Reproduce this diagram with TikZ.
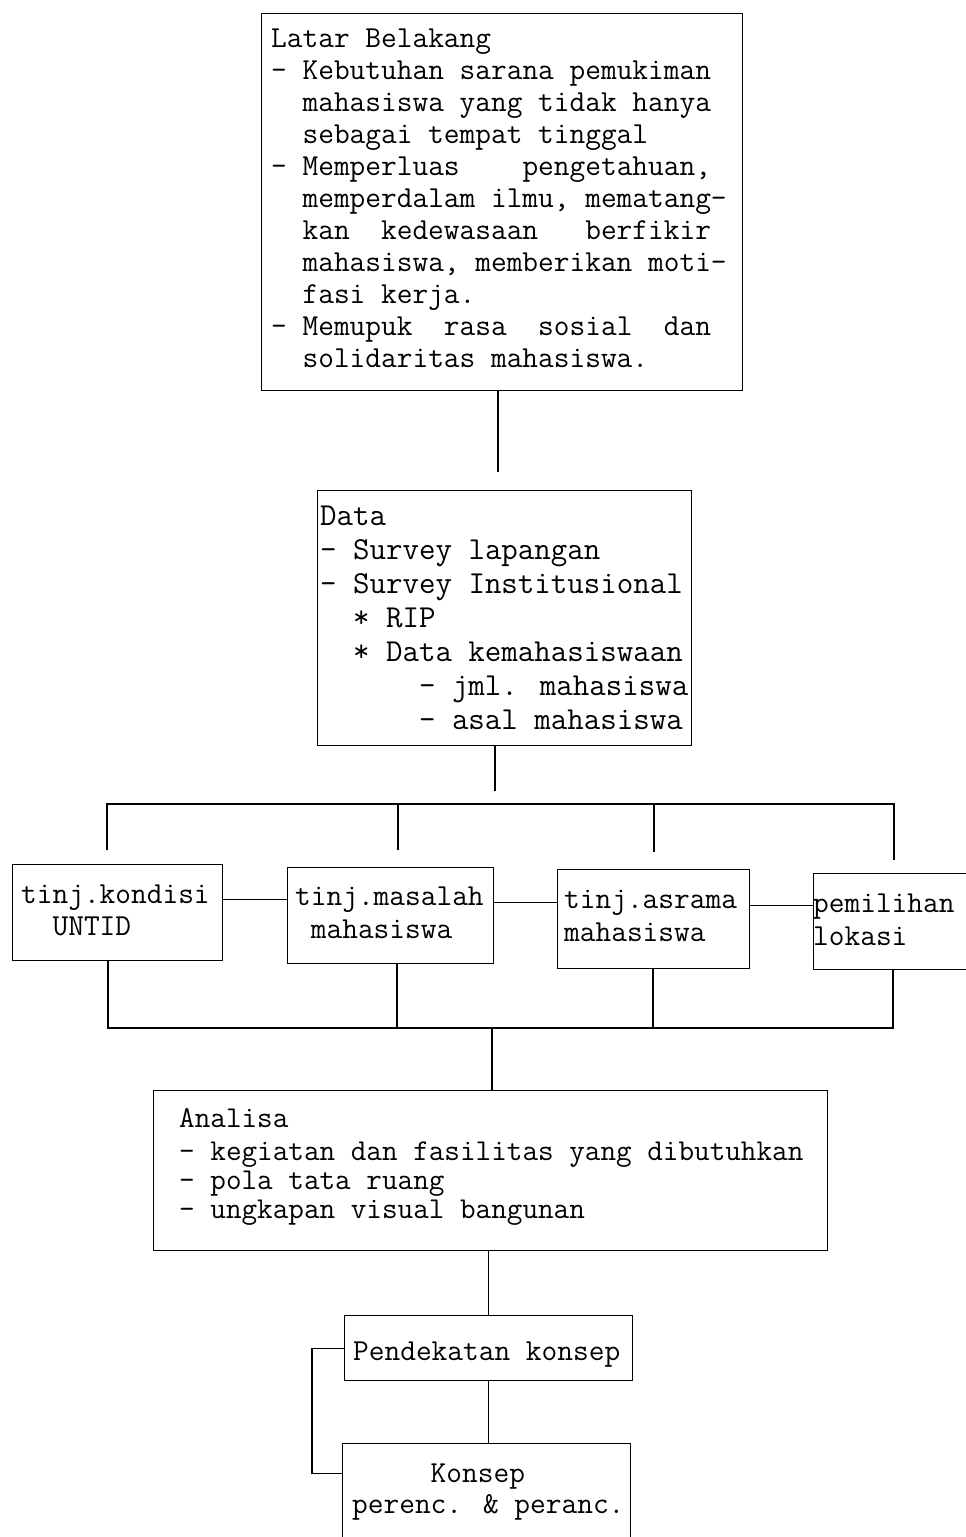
\documentclass[tikz,border=0pt]{standalone}
\usepackage{fontspec}
\begin{document}
\begin{tikzpicture}[x=1pt,y=-1pt,
  box/.style={draw, line width=1.2pt, inner sep=0pt, anchor=north west},
  txt/.style={inner sep=0pt, anchor=north west, align=left},
  ln/.style={line width=1.2pt}]
\fill[white] (0,0) rectangle (966,1537);
\useasboundingbox (0,0) rectangle (966,1537);

% boxes
\node[box, minimum width=481pt, minimum height=377pt] (lb) at (261,13) {};
\node[box, minimum width=374pt, minimum height=255pt] (data) at (317,490) {};
\node[box, minimum width=210pt, minimum height=96pt] (b1) at (12,864) {};
\node[box, minimum width=206pt, minimum height=96pt] (b2) at (287,867) {};
\node[box, minimum width=192pt, minimum height=99pt] (b3) at (557,869) {};
\node[box, minimum width=170pt, minimum height=96pt] (b4) at (813,873) {};
\node[box, minimum width=674pt, minimum height=160pt] (an) at (153,1090) {};
\node[box, minimum width=288pt, minimum height=65pt] (pk) at (344,1315) {};
\node[box, minimum width=288pt, minimum height=120pt] (ks) at (342,1443) {};

% texts
\node[txt, font=\ttfamily\fontsize{30.5}{32}\selectfont] (tlb) at (271,24.6) {\strut Latar Belakang\\
- Kebutuhan sarana pemukiman\\
\phantom{xx}mahasiswa yang tidak hanya\\
\phantom{xx}sebagai tempat tinggal\\
- Memperluas~~~~pengetahuan,\\
\phantom{xx}memperdalam ilmu, mematang-\\
\phantom{xx}kan~~kedewasaan~~~berfikir\\
\phantom{xx}mahasiswa, memberikan moti-\\
\phantom{xx}fasi kerja.\\
- Memupuk~~rasa~~sosial~~dan\\
\phantom{xx}solidaritas mahasiswa.};

\node[txt, font=\ttfamily\fontsize{32}{34}\selectfont] (tdata) at (320,501.2) {\strut Data\\
- Survey lapangan\\
- Survey Institusional\\
\phantom{xx}* RIP\\
\phantom{xx}* Data kemahasiswaan\\
\phantom{xxxxxx}- jml. mahasiswa\\
\phantom{xxxxxx}- asal mahasiswa};

\node[txt, font=\ttfamily\fontsize{30.5}{32}\selectfont] (tb1) at (21,880.6) {\strut tinj.kondisi\\\phantom{xx}UNTID};
\node[txt, font=\ttfamily\fontsize{30.5}{33}\selectfont] (tb2) at (295,881.9) {\strut tinj.masalah\\\phantom{x}mahasiswa};
\node[txt, font=\ttfamily\fontsize{30.5}{33}\selectfont] (tb3) at (564,884.9) {\strut tinj.asrama\\mahasiswa};
\node[txt, font=\ttfamily\fontsize{30.5}{33}\selectfont] (tb4) at (813,888.9) {\strut pemilihan\\lokasi};

\node[txt, font=\ttfamily\fontsize{30.3}{29}\selectfont] (tan) at (179,1106.7) {\strut Analisa\\[4pt]
- kegiatan dan fasilitas yang dibutuhkan\\
- pola tata ruang\\
- ungkapan visual bangunan};

\node[inner sep=0pt, anchor=base west, font=\ttfamily\fontsize{30.5}{32}\selectfont] (tpk) at (353,1360) {Pendekatan konsep};
\node[txt, font=\ttfamily\fontsize{30.5}{31}\selectfont] (tks) at (352,1460.3) {\strut\phantom{xxxxx}Konsep\\perenc. \& peranc.};

% connectors
\coordinate (c1) at (498,472);
\draw[ln] (lb.south -| c1) -- (c1);
\coordinate (c2) at (495,791);
\draw[ln] (data.south -| c2) -- (c2);

\coordinate (tl) at (107,804);
\coordinate (tr) at (894,804);
\coordinate (t1) at (107,850);
\coordinate (t2) at (398,850);
\coordinate (t3) at (654,852);
\coordinate (t4) at (894,860);
\draw[ln] (t1) -- (tl) -- (tr) -- (t4);
\draw[ln] (t2 |- tl) -- (t2);
\draw[ln] (t3 |- tl) -- (t3);

\draw[ln] ([yshift=13pt]b1.east) -- ([yshift=13pt]b1.east -| b2.west);
\draw[ln] ([yshift=13pt]b2.east) -- ([yshift=13pt]b2.east -| b3.west);
\draw[ln] ([yshift=13.5pt]b3.east) -- ([yshift=13.5pt]b3.east -| b4.west);

\coordinate (bl) at (108,1028);
\coordinate (br) at (893,1028);
\coordinate (m2) at (397,1028);
\coordinate (m3) at (653,1028);
\coordinate (m0) at (492,1028);
\draw[ln] (b1.south -| bl) -- (bl) -- (br) -- (br |- b4.south);
\draw[ln] (b2.south -| m2) -- (m2);
\draw[ln] (b3.south -| m3) -- (m3);
\draw[ln] (m0) -- (m0 |- an.north);

\draw[ln] (pk.north |- an.south) -- (pk.north);
\draw[ln] (pk.south) -- (pk.south |- ks.north);
\draw[ln] (pk.west) -- ++(-32,0) |- ([yshift=30pt]ks.west);
\end{tikzpicture}
\end{document}
